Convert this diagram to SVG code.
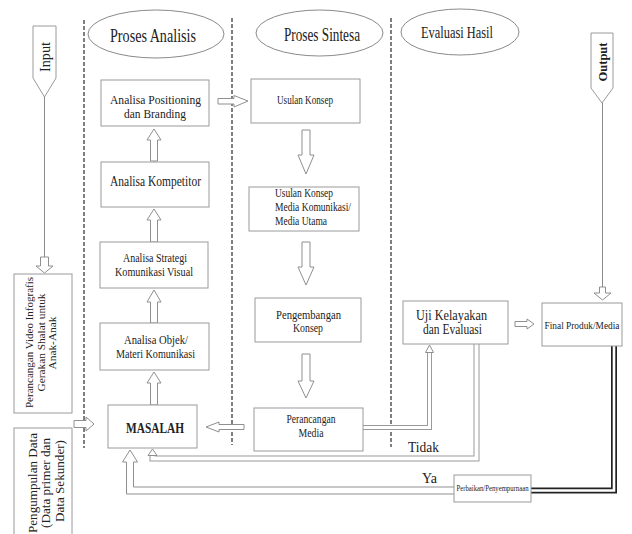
<svg xmlns="http://www.w3.org/2000/svg" width="632" height="534" viewBox="0 0 632 534">
<style>
.bx{fill:#fff;stroke:#9a9a9a;stroke-width:1}
.el{fill:#fff;stroke:#8a8a8a;stroke-width:1}
.t{font-family:"Liberation Serif","Times New Roman",serif;fill:#222;text-anchor:middle}
.ts{font-family:"Liberation Serif","Times New Roman",serif;fill:#222;text-anchor:start}
.ar{fill:#fff;stroke:#8f8f8f;stroke-width:1}
.dash{stroke:#555;stroke-width:1.5;stroke-dasharray:4 2;fill:none}
.ln{stroke:#8a8a8a;stroke-width:1;fill:none}
.dbo{stroke:#9a9a9a;fill:none;stroke-linejoin:miter}
.dbi{stroke:#fff;fill:none;stroke-linejoin:miter}
</style>

<g id="lanes">
<line class="dash" x1="84" y1="20" x2="84" y2="448"/>
<line class="dash" x1="232" y1="18" x2="232" y2="445"/>
<line class="dash" x1="391" y1="18" x2="391" y2="447"/>
<g id="h-analisis"><ellipse class="el" cx="156" cy="34" rx="68" ry="24"/><text class="t" x="153" y="42" font-size="19" textLength="86" lengthAdjust="spacingAndGlyphs">Proses Analisis</text></g>
<g id="h-sintesa"><ellipse class="el" cx="319.5" cy="33" rx="63.5" ry="23"/><text class="t" x="322" y="41" font-size="18" textLength="76" lengthAdjust="spacingAndGlyphs">Proses Sintesa</text></g>
<g id="h-evaluasi"><ellipse class="el" cx="460" cy="32" rx="59" ry="23"/><text class="t" x="457" y="38" font-size="17" textLength="72" lengthAdjust="spacingAndGlyphs">Evaluasi Hasil</text></g>
</g>

<g id="connectors">
<line class="ln" x1="44.5" y1="97" x2="44.5" y2="257"/>
<line class="ln" x1="602.5" y1="103" x2="602.5" y2="287"/>
<polygon class="ar" points="40.5,257 48.5,257 48.5,266 53,266 44.5,273 36,266 40.5,266"/>
<polygon class="ar" points="599.5,287 605.5,287 605.5,293 611,293 602.5,300 594,293 599.5,293"/>
<polygon class="ar" points="150.5,161 150.5,140 147,140 154,129 161,140 157.5,140 157.5,161"/>
<polygon class="ar" points="150.5,242 150.5,220 147,220 154,209 161,220 157.5,220 157.5,242"/>
<polygon class="ar" points="150.5,323 150.5,302 147,302 154,290 161,302 157.5,302 157.5,323"/>
<polygon class="ar" points="150.5,405 150.5,383 147,383 154,372 161,383 157.5,383 157.5,405"/>
<polygon class="ar" points="302,130 310,130 310,155 314,155 306,174 298,155 302,155"/>
<polygon class="ar" points="302,242 310,242 310,267 314,267 306,285 298,267 302,267"/>
<polygon class="ar" points="302,354 310,354 310,381 314,381 306,398 298,381 302,381"/>
<polygon class="ar" points="218,98.5 234,98.5 234,95.5 248,101 234,107 234,104 218,104"/>
<polygon class="ar" points="244,424.5 219,424.5 219,422 206,427 219,432 219,429.5 244,429.5"/>
<polygon class="ar" points="74,420.5 86,420.5 86,417 94,424 86,431 86,427.5 74,427.5"/>
<polygon class="ar" points="515,321.5 527,321.5 527,319 534,324 527,329 527,326.5 515,326.5"/>
<path class="dbo" stroke-width="5" d="M363,427.5 H429.5 V352"/>
<path class="dbi" stroke-width="3" d="M362,427.5 H429.5 V353"/>
<polygon class="ar" points="425.5,352.5 429.5,345 433.5,352.5"/>
<path class="dbo" stroke-width="6" d="M476.5,344 V458.5 H152.5 V455"/>
<path class="dbi" stroke-width="4" d="M476.5,343 V458.5 H152.5 V456"/>
<polygon class="ar" points="148,455.5 152.5,449 157,455.5"/>
<path class="ar" d="M454,494 H126.5 V462 H122.5 L130,450 L137.5,462 H133.5 V487 H454"/>
<path stroke="#222" stroke-width="6" fill="none" d="M614,346 V490.5 H531"/>
<path stroke="#fff" stroke-width="2.6" fill="none" d="M614,345 V490.5 H530"/>
<text class="t" x="423.5" y="452" font-size="15" textLength="31" lengthAdjust="spacingAndGlyphs">Tidak</text>
<text class="t" x="429.5" y="483" font-size="15" textLength="15" lengthAdjust="spacingAndGlyphs">Ya</text>
</g>

<g id="input">
<polygon class="bx" points="33,26 56,26 56,78 44.5,97 33,78"/>
<text class="t" transform="translate(50,57) rotate(-90)" font-size="14" textLength="30" lengthAdjust="spacingAndGlyphs">Input</text>
</g>
<g id="output">
<polygon class="bx" points="591,33 613,33 613,88 602,103 591,88"/>
<text class="t" transform="translate(606.5,62) rotate(-90)" font-size="12" font-weight="bold" textLength="39" lengthAdjust="spacingAndGlyphs">Output</text>
</g>

<g id="perancangan-video">
<rect class="bx" x="14" y="274" width="58" height="139"/>
<text class="t" transform="translate(33,342.5) rotate(-90)" font-size="10" textLength="131" lengthAdjust="spacingAndGlyphs">Perancangan Video Infografis</text>
<text class="t" transform="translate(44.5,342.5) rotate(-90)" font-size="10" textLength="98" lengthAdjust="spacingAndGlyphs">Gerakan Shalat untuk</text>
<text class="t" transform="translate(56,343) rotate(-90)" font-size="10" textLength="53" lengthAdjust="spacingAndGlyphs">Anak-Anak</text>
</g>
<g id="pengumpulan-data">
<rect class="bx" x="14" y="428" width="58" height="112"/>
<text class="t" transform="translate(36.5,483) rotate(-90)" font-size="12.5" textLength="100" lengthAdjust="spacingAndGlyphs">Pengumpulan Data</text>
<text class="t" transform="translate(50,483) rotate(-90)" font-size="12.5" textLength="90" lengthAdjust="spacingAndGlyphs">(Data primer dan</text>
<text class="t" transform="translate(63.5,481) rotate(-90)" font-size="12.5" textLength="82" lengthAdjust="spacingAndGlyphs">Data Sekunder)</text>
</g>

<g id="analisa-positioning">
<rect class="bx" x="101" y="80" width="108" height="46"/>
<text class="t" x="155.5" y="104" font-size="12" textLength="91" lengthAdjust="spacingAndGlyphs">Analisa Positioning</text>
<text class="t" x="155" y="118" font-size="12" textLength="62" lengthAdjust="spacingAndGlyphs">dan Branding</text>
</g>
<g id="analisa-kompetitor">
<rect class="bx" x="101" y="162" width="108" height="45"/>
<text class="t" x="155.5" y="186" font-size="14" textLength="91" lengthAdjust="spacingAndGlyphs">Analisa Kompetitor</text>
</g>
<g id="analisa-strategi">
<rect class="bx" x="100" y="242" width="108" height="46"/>
<text class="t" x="155" y="262" font-size="12" textLength="64" lengthAdjust="spacingAndGlyphs">Analisa Strategi</text>
<text class="t" x="154" y="276" font-size="12" textLength="78" lengthAdjust="spacingAndGlyphs">Komunikasi Visual</text>
</g>
<g id="analisa-objek">
<rect class="bx" x="100" y="323" width="109" height="47"/>
<text class="t" x="156" y="344" font-size="12" textLength="64" lengthAdjust="spacingAndGlyphs">Analisa Objek/</text>
<text class="t" x="155.5" y="358" font-size="12" textLength="79" lengthAdjust="spacingAndGlyphs">Materi Komunikasi</text>
</g>
<g id="masalah">
<rect class="bx" x="108" y="405" width="89" height="43"/>
<text class="t" x="155" y="433" font-size="15" font-weight="bold" textLength="58" lengthAdjust="spacingAndGlyphs">MASALAH</text>
</g>

<g id="usulan-konsep">
<rect class="bx" x="251" y="79" width="109" height="44"/>
<text class="t" x="305" y="104" font-size="12" textLength="56" lengthAdjust="spacingAndGlyphs">Usulan Konsep</text>
</g>
<g id="usulan-media">
<rect class="bx" x="249" y="187" width="110" height="44"/>
<text class="ts" x="275" y="197" font-size="11.5" textLength="58" lengthAdjust="spacingAndGlyphs">Usulan Konsep</text>
<text class="ts" x="275" y="211" font-size="11.5" textLength="76" lengthAdjust="spacingAndGlyphs">Media Komunikasi/</text>
<text class="ts" x="275" y="225" font-size="11.5" textLength="52" lengthAdjust="spacingAndGlyphs">Media Utama</text>
</g>
<g id="pengembangan">
<rect class="bx" x="255" y="298" width="106" height="44"/>
<text class="t" x="308.5" y="319" font-size="12" textLength="65" lengthAdjust="spacingAndGlyphs">Pengembangan</text>
<text class="t" x="308" y="332" font-size="12" textLength="30" lengthAdjust="spacingAndGlyphs">Konsep</text>
</g>
<g id="perancangan-media">
<rect class="bx" x="254" y="408" width="109" height="43"/>
<text class="t" x="311" y="423" font-size="12" textLength="49" lengthAdjust="spacingAndGlyphs">Perancangan</text>
<text class="t" x="311" y="437" font-size="12" textLength="25" lengthAdjust="spacingAndGlyphs">Media</text>
</g>

<g id="uji-kelayakan">
<rect class="bx" x="403" y="301" width="105" height="43"/>
<text class="t" x="451.5" y="320" font-size="14" textLength="71" lengthAdjust="spacingAndGlyphs">Uji Kelayakan</text>
<text class="t" x="452.5" y="334" font-size="14" textLength="59" lengthAdjust="spacingAndGlyphs">dan Evaluasi</text>
</g>
<g id="final-produk">
<rect class="bx" x="542" y="303" width="80" height="43"/>
<text class="t" transform="translate(582,329) scale(0.85,1)" font-size="11">Final Produk/Media</text>
</g>
<g id="perbaikan">
<rect class="bx" x="454" y="475" width="77" height="27"/>
<text class="t" x="492.5" y="491" font-size="7.5" textLength="72" lengthAdjust="spacingAndGlyphs">Perbaikan/Penyempurnaan</text>
</g>
</svg>
